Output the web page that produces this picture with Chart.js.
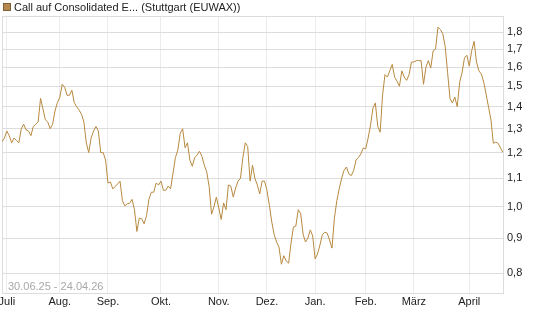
<!DOCTYPE html>
<html>
<head>
<meta charset="utf-8">
<script src="https://cdn.jsdelivr.net/npm/chart.js@4/dist/chart.umd.min.js"></script>
<style>
html,body{margin:0;padding:0;background:#fff;}
#wrap{position:relative;width:545px;height:327px;}
canvas{display:block;}
</style>
</head>
<body>
<div id="wrap"><canvas id="c" width="545" height="327"></canvas></div>
<script>
// Series name and range text
const seriesName = "Call auf Consolidated E... (Stuttgart (EUWAX))";
const rangeText = "30.06.25 - 24.04.26";

// Daily closing values (trading days 30.06.25 .. 24.04.26)
const values = [
  1.245,1.26,1.29,1.27,1.24,1.26,1.25,1.24,1.30,1.32,1.295,1.29,1.27,1.31,1.32,1.33,1.44,1.39,1.34,1.33,
  1.30,1.32,1.38,1.42,1.445,1.51,1.495,1.455,1.455,1.48,1.42,1.40,1.385,1.365,1.33,1.24,1.20,1.26,1.29,1.31,
  1.29,1.20,1.20,1.17,1.083,1.087,1.062,1.07,1.08,1.09,1.02,1.003,1.01,1.012,1.025,0.99,0.92,0.962,0.96,0.944,
  0.97,1.025,1.05,1.05,1.083,1.076,1.09,1.057,1.057,1.072,1.062,1.12,1.18,1.21,1.28,1.30,1.22,1.24,1.17,1.146,
  1.18,1.19,1.205,1.185,1.15,1.124,1.07,0.975,1.0,1.033,0.996,0.958,1.013,0.99,1.076,1.072,1.033,1.065,1.09,1.10,
  1.18,1.24,1.225,1.09,1.15,1.10,1.076,1.044,1.09,1.09,1.057,1.005,0.95,0.91,0.888,0.873,0.824,0.848,0.833,0.827,
  0.885,0.934,0.937,0.99,0.977,0.912,0.888,0.90,0.925,0.906,0.839,0.853,0.879,0.91,0.918,0.915,0.894,0.87,0.962,1.02,
  1.062,1.10,1.13,1.143,1.117,1.11,1.13,1.17,1.18,1.195,1.218,1.215,1.26,1.316,1.393,1.418,1.31,1.285,1.456,1.56,
  1.547,1.58,1.614,1.547,1.526,1.50,1.58,1.547,1.53,1.56,1.627,1.628,1.635,1.635,1.635,1.51,1.60,1.635,1.595,1.69,
  1.70,1.83,1.815,1.79,1.715,1.57,1.44,1.418,1.446,1.40,1.52,1.57,1.65,1.665,1.605,1.69,1.745,1.627,1.58,1.563,
  1.521,1.46,1.398,1.34,1.238,1.243,1.238,1.218,1.20
];

// Month ticks: index of the month boundary, and label
const monthTickIndex = [2, 24, 44, 66, 90, 110, 130, 151, 171, 194];
const monthLabels = ["Juli","Aug.","Sep.","Okt.","Nov.","Dez.","Jan.","Feb.","März","April"];

// Y axis tick values
const yTickValues = [0.8, 0.9, 1.0, 1.1, 1.2, 1.3, 1.4, 1.5, 1.6, 1.7, 1.8];

const lineColor = "#b8893f";
const FONT = "'Liberation Sans', Arial, sans-serif";
const Y_MIN = 0.748, Y_MAX = 1.9;

const points = values.map((v, i) => ({x: i, y: v}));

const overlay = {
  id: 'overlay',
  beforeDatasetsDraw(chart) {
    const {ctx, chartArea: a} = chart;
    ctx.save();
    ctx.strokeStyle = '#dcdcdc';
    ctx.lineWidth = 1;
    ctx.strokeRect(Math.round(a.left) + 0.5, Math.round(a.top) + 0.5,
                   Math.round(a.right - a.left), Math.round(a.bottom - a.top));
    // range text
    ctx.fillStyle = '#a8a8a8';
    ctx.font = "11px " + FONT;
    ctx.textBaseline = 'middle';
    ctx.fillText(rangeText, a.left + 6, a.bottom - 6);
    ctx.restore();
  },
  afterDraw(chart) {
    const ctx = chart.ctx;
    ctx.save();
    // legend box
    ctx.fillStyle = '#b48a4e';
    ctx.fillRect(3, 3, 8, 8);
    ctx.strokeStyle = '#7d5f35';
    ctx.lineWidth = 1;
    ctx.strokeRect(3.5, 3.5, 7, 7);
    ctx.fillStyle = '#222';
    ctx.font = "11px " + FONT;
    ctx.textBaseline = 'middle';
    ctx.fillText(seriesName, 14, 7.5);
    ctx.restore();
  }
};

new Chart(document.getElementById('c'), {
  type: 'line',
  data: {
    datasets: [{
      data: points,
      borderColor: lineColor,
      borderWidth: 1,
      pointRadius: 0,
      tension: 0,
      fill: false
    }]
  },
  options: {
    responsive: false,
    animation: false,
    events: [],
    layout: {padding: {left: 2, top: 16, right: 0, bottom: 0}},
    plugins: {legend: {display: false}, tooltip: {enabled: false}},
    scales: {
      x: {
        type: 'linear',
        bounds: 'data',
        min: 0,
        max: values.length - 1,
        afterBuildTicks(scale) { scale.ticks = monthTickIndex.map(v => ({value: v})); },
        afterFit(scale) { scale.height = 34; scale.paddingLeft = 0; scale.paddingRight = 0; },
        grid: {color: '#ececec', drawTicks: false},
        border: {color: '#dcdcdc'},
        ticks: {
          autoSkip: false, maxRotation: 0, padding: 2,
          color: '#222', font: {size: 11, family: FONT},
          callback(v) { const k = monthTickIndex.indexOf(v); return k >= 0 ? monthLabels[k] : ''; }
        }
      },
      y: {
        type: 'logarithmic',
        bounds: 'data',
        position: 'right',
        min: Y_MIN,
        max: Y_MAX,
        afterBuildTicks(scale) {
          scale.ticks = yTickValues.map(v => ({value: v}));
          scale.min = Y_MIN; scale.max = Y_MAX;
        },
        afterFit(scale) { scale.width = 42; scale.paddingTop = 0; scale.paddingBottom = 0; },
        grid: {color: '#dcdcdc', drawTicks: false},
        border: {color: '#c8c8c8'},
        ticks: {
          padding: 4,
          color: '#222', font: {size: 11, family: FONT},
          callback(v) { return Number(v).toFixed(1).replace('.', ','); }
        }
      }
    }
  },
  plugins: [overlay]
});
</script>
</body>
</html>
